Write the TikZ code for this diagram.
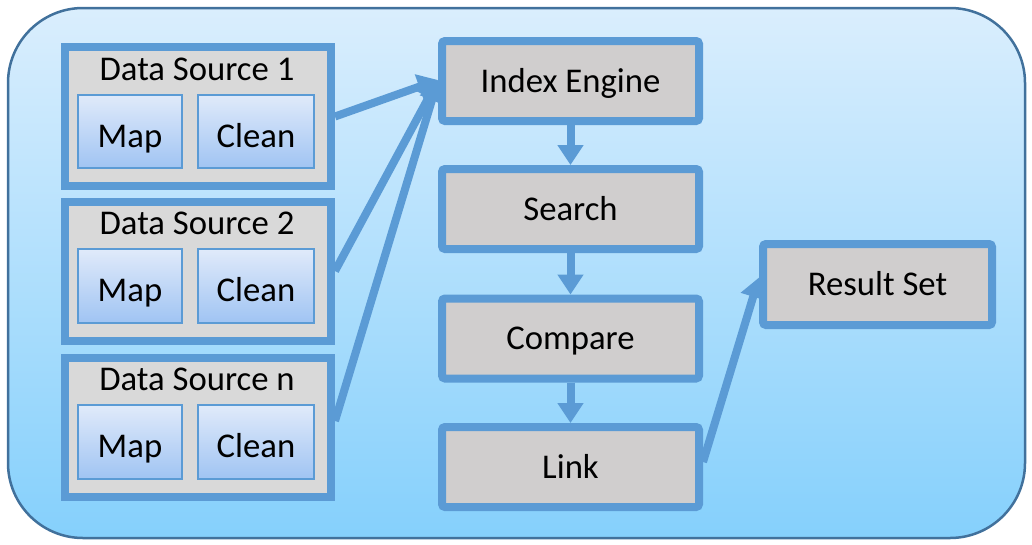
\documentclass[tikz,border=0pt]{standalone}
\usepackage{fontspec}
\setmainfont{Carlito}
\usetikzlibrary{arrows.meta,calc}
\definecolor{bgtop}{HTML}{DAEEFD}
\definecolor{bgbot}{HTML}{85D0FC}
\definecolor{frameblue}{HTML}{41719C}
\definecolor{accent}{HTML}{5B9BD5}
\definecolor{dsgray}{HTML}{D9D9D9}
\definecolor{boxgray}{HTML}{D0CECE}
\definecolor{mtop}{HTML}{E0EAFA}
\definecolor{mbot}{HTML}{A0C4F3}
\tikzset{
  txt/.style={font=\fontsize{34.7}{40}\selectfont},
  dsbox/.style={draw=accent, line width=8pt, fill=dsgray, inner sep=0pt,
    minimum width=266pt, minimum height=139pt},
  subbox/.style={txt, draw=accent, line width=1.6pt, top color=mtop, bottom color=mbot,
    inner sep=0pt, minimum height=73.5pt, text height=31pt, text depth=0pt},
  procbox/.style={txt, draw=accent, line width=8pt, fill=boxgray, inner sep=0pt,
    rounded corners=3pt, minimum width=257pt, minimum height=80pt,
    text height=22.4pt, text depth=0pt},
  flow/.style={draw=accent, line width=8pt, -{Triangle[length=20pt,width=25pt]}},
}
\begin{document}
\begin{tikzpicture}[x=1pt,y=-1pt]
\useasboundingbox (0,0) rectangle (1032,544);
\node[draw=frameblue, line width=2.5pt, top color=bgtop, bottom color=bgbot,
  rounded corners=75pt, minimum width=1017pt, minimum height=530pt, inner sep=0pt]
  (frame) at (516.5,273) {};
% data sources
\foreach \i/\y/\t in {1/116.5/1, 2/271/2, 3/427/n}{
  \node[dsbox] (ds\i) at (198,\y) {};
  \node[txt, anchor=base] (dst\i) at (197,\y-36.5) {Data Source \t};
  \node[subbox, minimum width=104.5pt] (map\i) at (130,\y+15) {Map};
  \node[subbox, minimum width=116.5pt] (clean\i) at (256,\y+15) {Clean};
}
% process column
\node[procbox] (ie) at (570.5,81) {Index Engine};
\node[procbox] (search) at (570.5,209) {Search};
\node[procbox] (compare) at (570.5,338.5) {Compare};
\node[procbox] (link) at (570.5,467) {Link};
\node[procbox, minimum width=229pt, minimum height=81pt] (rs) at (877.5,284.5) {Result Set};
% connectors
\draw[flow] (ds1.east) -- ([yshift=1pt]ie.west);
\draw[flow] (ds2.east) -- ([yshift=1pt]ie.west);
\draw[flow] ([yshift=6pt]ds3.east) -- ([yshift=1pt]ie.west);
\draw[flow] (ie.south) -- (search.north);
\draw[flow] (search.south) -- (compare.north);
\draw[flow] (compare.south) -- (link.north);
\draw[flow] ([yshift=5pt]link.east) -- ([yshift=7pt]rs.west);
\end{tikzpicture}
\end{document}
